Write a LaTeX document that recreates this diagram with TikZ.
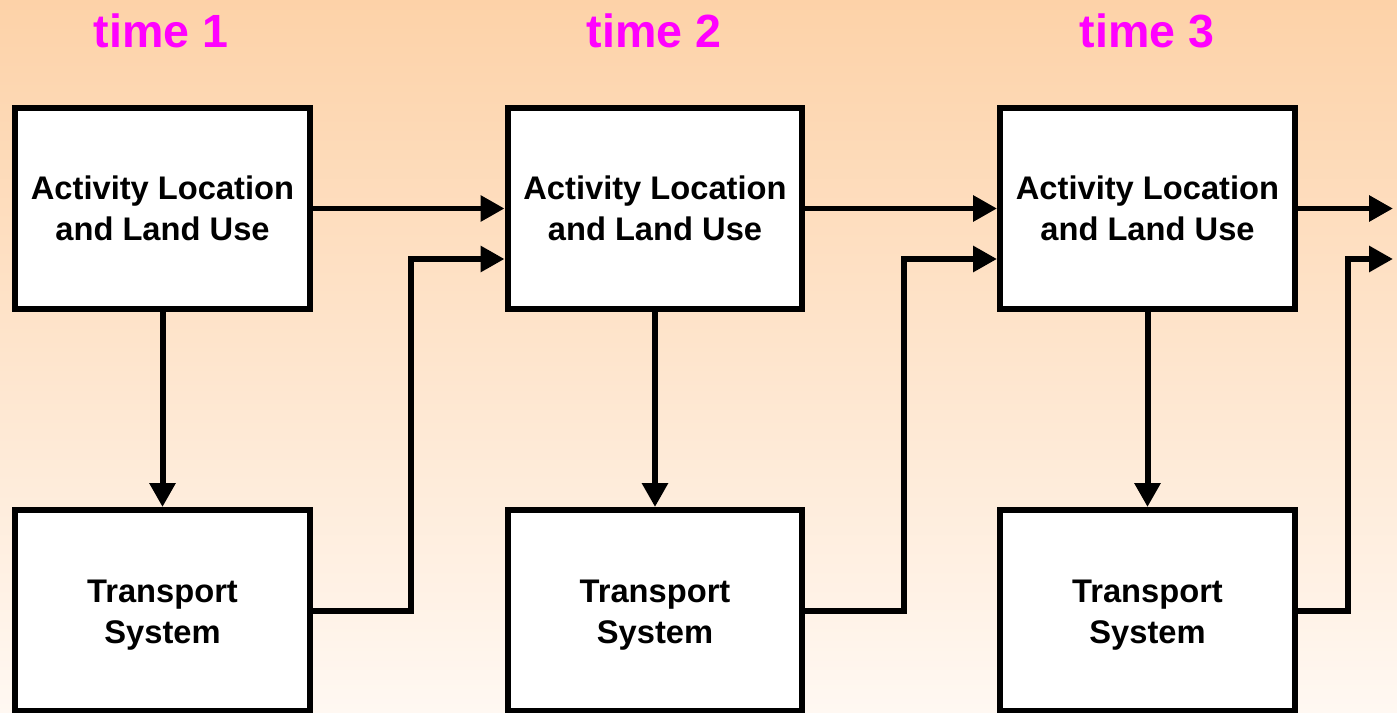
\documentclass[tikz,border=0pt]{standalone}
\usepackage{fontspec}
\setmainfont{Liberation Sans}
\usetikzlibrary{arrows.meta,calc}
\definecolor{peachtop}{RGB}{253,210,168}
\definecolor{peachbot}{RGB}{255,248,242}
\definecolor{timemag}{RGB}{255,0,255}
\newcommand{\lowtwo}[2]{\raisebox{-0.08cm}[\height][\depth]{\begin{tabular}{@{}c@{}}#1\\#2\end{tabular}}}
\begin{document}
\begin{tikzpicture}[x=0.02cm,y=-0.02cm,
  stagebox/.style={draw=black,fill=white,line width=0.12cm,
    minimum width=5.9cm,minimum height=4.02cm,inner sep=0pt,
    align=center,font=\bfseries\fontsize{18.6}{23.4}\selectfont},
  timelabel/.style={text=timemag,font=\bfseries\fontsize{26.5}{30}\selectfont},
  arr/.style={line width=0.12cm,-{Triangle[length=0.48cm,width=0.5cm]}}]
% background
\useasboundingbox (0,0) rectangle (1397,713);
\shade[top color=peachtop,bottom color=peachbot] (0,0) rectangle (1397,713);

% time headings
\node[timelabel] (h1) at (161,31) {time 1};
\node[timelabel] (h2) at (654,31) {time 2};
\node[timelabel] (h3) at (1147,31) {time 3};

% activity / land-use boxes
\node[stagebox] (a1) at (162.5,208.5) {Activity Location\\and Land Use};
\node[stagebox] (a2) at (655,208.5) {Activity Location\\and Land Use};
\node[stagebox] (a3) at (1147.5,208.5) {Activity Location\\and Land Use};

% transport boxes
\node[stagebox] (t1) at (162.5,610.5) {\lowtwo{Transport}{System}};
\node[stagebox] (t2) at (655,610.5) {\lowtwo{Transport}{System}};
\node[stagebox] (t3) at (1147.5,610.5) {\lowtwo{Transport}{System}};

% free ends leaving the last stage
\coordinate (out1) at (1393,208.5);
\coordinate (out2) at (1393,259);

% land use shapes transport within each stage
\draw[arr] (a1.south) -- (t1.north);
\draw[arr] (a2.south) -- (t2.north);
\draw[arr] (a3.south) -- (t3.north);

% land use carries over to the next stage
\draw[arr] (a1.east) -- (a2.west);
\draw[arr] (a2.east) -- (a3.west);
\draw[arr] (a3.east) -- (out1);

% transport feeds the next stage's land use
\draw[arr] (t1.east) -- ++(98,0) |- ($(a2.west)+(0,50.5)$);
\draw[arr] (t2.east) -- ++(99,0) |- ($(a3.west)+(0,50.5)$);
\draw[arr] (t3.east) -- ++(50,0) |- (out2);
\end{tikzpicture}
\end{document}
